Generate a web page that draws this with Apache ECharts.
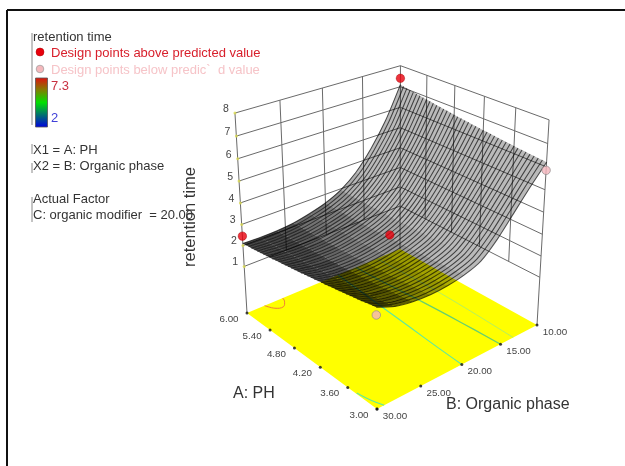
<!DOCTYPE html>
<html><head><meta charset="utf-8">
<style>html,body{margin:0;padding:0;background:#fff}#c{width:625px;height:466px;filter:blur(0.6px)}</style>
<script src="https://cdn.jsdelivr.net/npm/echarts@6/dist/echarts.min.js"></script>
</head><body><div id="c"></div>
<script>
const aTicks=[3.00,3.60,4.20,4.80,5.40,6.00];
const bTicks=[10,15,20,25,30];
const zTicks=[1,2,3,4,5,6,7,8];
const abovePoints=[[6,30,2.45],[6,10,7.4],[4.5,20,2.74]];
const belowPoints=[[3,10,5.85],[3,30,2.78]];
const bLevels=[30,28,26,24,22,20,18,16,14,12,10];
const aStart=3, aStep=0.075;
const surface=[
[3.10,2.78,2.63,2.58,2.63,2.77,3.05,3.70,4.55,5.40,6.20],
[3.07,2.76,2.61,2.56,2.62,2.76,3.04,3.69,4.54,5.40,6.22],
[3.04,2.73,2.59,2.55,2.60,2.75,3.03,3.68,4.53,5.40,6.23],
[3.00,2.71,2.57,2.53,2.59,2.74,3.02,3.67,4.52,5.39,6.25],
[2.97,2.68,2.55,2.51,2.58,2.72,3.01,3.66,4.51,5.39,6.26],
[2.94,2.66,2.53,2.50,2.56,2.71,3.00,3.65,4.50,5.39,6.28],
[2.91,2.64,2.51,2.48,2.55,2.70,3.00,3.64,4.50,5.39,6.30],
[2.88,2.61,2.49,2.47,2.54,2.69,2.99,3.63,4.49,5.39,6.31],
[2.85,2.59,2.48,2.45,2.53,2.68,2.98,3.62,4.48,5.39,6.33],
[2.82,2.57,2.46,2.44,2.52,2.68,2.98,3.61,4.48,5.39,6.35],
[2.79,2.55,2.44,2.42,2.50,2.67,2.97,3.61,4.47,5.39,6.37],
[2.77,2.53,2.42,2.41,2.49,2.66,2.96,3.60,4.46,5.40,6.39],
[2.74,2.51,2.41,2.40,2.48,2.65,2.96,3.59,4.46,5.40,6.41],
[2.71,2.49,2.39,2.38,2.47,2.64,2.95,3.59,4.45,5.40,6.43],
[2.68,2.47,2.38,2.37,2.46,2.64,2.95,3.58,4.45,5.40,6.45],
[2.66,2.45,2.36,2.36,2.46,2.63,2.94,3.57,4.44,5.41,6.47],
[2.63,2.43,2.35,2.35,2.45,2.62,2.94,3.57,4.44,5.41,6.49],
[2.60,2.41,2.33,2.34,2.44,2.62,2.93,3.56,4.43,5.41,6.51],
[2.58,2.39,2.32,2.33,2.43,2.61,2.93,3.56,4.43,5.42,6.53],
[2.55,2.37,2.30,2.32,2.42,2.61,2.93,3.55,4.43,5.42,6.55],
[2.53,2.36,2.29,2.31,2.42,2.60,2.93,3.55,4.43,5.43,6.58],
[2.50,2.34,2.28,2.30,2.41,2.60,2.92,3.55,4.42,5.43,6.60],
[2.48,2.32,2.26,2.29,2.40,2.59,2.92,3.54,4.42,5.44,6.62],
[2.45,2.30,2.25,2.28,2.40,2.59,2.92,3.54,4.42,5.44,6.64],
[2.43,2.29,2.24,2.27,2.39,2.58,2.92,3.54,4.42,5.45,6.67],
[2.41,2.27,2.23,2.26,2.39,2.58,2.92,3.54,4.42,5.46,6.69],
[2.38,2.26,2.22,2.25,2.38,2.58,2.92,3.53,4.42,5.46,6.72],
[2.36,2.24,2.21,2.24,2.38,2.58,2.92,3.53,4.42,5.47,6.74],
[2.34,2.23,2.20,2.24,2.37,2.57,2.92,3.53,4.42,5.48,6.77],
[2.32,2.21,2.19,2.23,2.37,2.57,2.92,3.53,4.42,5.49,6.79],
[2.29,2.20,2.18,2.22,2.36,2.57,2.92,3.53,4.42,5.49,6.82],
[2.27,2.19,2.17,2.22,2.36,2.57,2.92,3.53,4.42,5.50,6.85],
[2.25,2.17,2.16,2.21,2.36,2.57,2.92,3.53,4.42,5.51,6.87],
[2.23,2.16,2.15,2.21,2.36,2.57,2.92,3.53,4.42,5.52,6.90],
[2.21,2.15,2.14,2.20,2.35,2.57,2.93,3.53,4.43,5.53,6.93],
[2.19,2.13,2.13,2.20,2.35,2.57,2.93,3.54,4.43,5.54,6.95],
[2.17,2.12,2.13,2.19,2.35,2.57,2.93,3.54,4.43,5.55,6.98],
[2.15,2.11,2.12,2.19,2.35,2.57,2.94,3.54,4.44,5.56,7.01],
[2.14,2.10,2.11,2.19,2.35,2.58,2.94,3.54,4.44,5.58,7.04],
[2.12,2.09,2.11,2.18,2.35,2.58,2.95,3.55,4.45,5.59,7.07],
[2.10,2.08,2.10,2.18,2.35,2.58,2.95,3.55,4.45,5.60,7.10]];
const contourRed=[[6,27.9],[5.84,27.4],[5.79,26.6],[5.91,25.9],[6,25.7]];
const contourLow=[[3.43,29.9],[3.18,29.6],[3.0,29.2]];
const contourMid=[[6,18.6],[5.4,18.9],[4.79,19.2],[4.15,19.5],[3.52,19.8],[3,20]];
const contourHigh=[[6,16.2],[5.25,15.9],[4.53,15.5],[3.75,15.2],[3,15]];
const contourTop=[[6,13.3],[4.55,13],[3,13.3]];
const colorRange=[2,7.3];

const cam={front:[377,409],right:[537,325],back:[400,249],left:[247,313],vanish:[394,2756],zFloor:-1.3,zGain:0.00944};
const dx1=cam.right[0]-cam.back[0],dx2=cam.left[0]-cam.back[0],sx=cam.front[0]-cam.right[0]+cam.back[0]-cam.left[0];
const dy1=cam.right[1]-cam.back[1],dy2=cam.left[1]-cam.back[1],sy=cam.front[1]-cam.right[1]+cam.back[1]-cam.left[1];
const den=dx1*dy2-dx2*dy1,g=(sx*dy2-dx2*sy)/den,h=(dx1*sy-sx*dy1)/den;
const m=[cam.right[0]-cam.front[0]+g*cam.right[0],cam.left[0]-cam.front[0]+h*cam.left[0],cam.front[0],
         cam.right[1]-cam.front[1]+g*cam.right[1],cam.left[1]-cam.front[1]+h*cam.left[1],cam.front[1]];
function scr(A,B,z){
  const s=(30-B)/20,t=(A-3)/3,q=cam.zGain*((z==null?cam.zFloor:z)-cam.zFloor);
  const w=g*s+h*t+1-q;
  return [(m[0]*s+m[1]*t+m[2]-q*cam.vanish[0])/w,(m[3]*s+m[4]*t+m[5]-q*cam.vanish[1])/w];
}
const FONT='"Liberation Sans",Arial,sans-serif';
const aOf=i=>aStart+i*aStep;

const segs=[];
zTicks.forEach(z=>{segs.push([[6,30,z],[6,10,z]]);segs.push([[6,10,z],[3,10,z]]);});
bTicks.forEach(b=>segs.push([[6,b,(b===30||b===10)?null:1],[6,b,8]]));
aTicks.forEach(a=>{if(a!==6)segs.push([[a,10,a===3?null:1],[a,10,8]]);});

function polyItem(pts,api,style,smooth){
  return {type:'polyline',shape:{points:pts.map(p=>api.coord(p)),smooth:smooth||0},style:Object.assign({fill:null},style),silent:true};
}
function cellItems(){const d=[];for(let i=0;i<surface.length-1;i++)for(let j=0;j<bLevels.length-1;j++)d.push([i,j]);return d;}
const T=(t,x,y,f,c)=>({type:'text',x,y,style:{text:t,font:f+'px '+FONT,fill:c,textVerticalAlign:'middle'}});

const option={animation:false,backgroundColor:'#fff',
 grid:{left:0,right:0,top:0,bottom:0},
 xAxis:{type:'value',min:0,max:625,show:false},
 yAxis:{type:'value',min:0,max:466,inverse:true,show:false},
 graphic:{elements:[
  {type:'line',shape:{x1:7,y1:10,x2:625,y2:10},style:{stroke:'#111',lineWidth:2}},
  {type:'line',shape:{x1:7,y1:10,x2:7,y2:466},style:{stroke:'#111',lineWidth:2}},
  {type:'line',shape:{x1:32,y1:33,x2:32,y2:125},style:{stroke:'#888',lineWidth:1}},
  {type:'line',shape:{x1:32,y1:144,x2:32,y2:154},style:{stroke:'#888',lineWidth:1}},
  {type:'line',shape:{x1:32,y1:163,x2:32,y2:173},style:{stroke:'#888',lineWidth:1}},
  {type:'line',shape:{x1:32,y1:197,x2:32,y2:222},style:{stroke:'#888',lineWidth:1}},
  T('retention time',33,37,13,'#333'),
  {type:'circle',shape:{cx:40,cy:52,r:4},style:{fill:'#e8000c',stroke:'#a00',lineWidth:.5}},
  T('Design points above predicted value',51,53,13,'#d8202c'),
  {type:'circle',shape:{cx:40,cy:69,r:3.8},style:{fill:'#f4b8bc',stroke:'#999',lineWidth:.7}},
  T('Design points below predic`  d value',51,70,13,'#f6c4c8'),
  {type:'rect',shape:{x:35.5,y:78,width:12,height:49},style:{stroke:'#555',lineWidth:.8,fill:{type:'linear',x:0,y:0,x2:0,y2:1,colorStops:[{offset:0,color:'#e01010'},{offset:.25,color:'#808000'},{offset:.5,color:'#00e000'},{offset:.75,color:'#007070'},{offset:1,color:'#0000e0'}]}}},
  T(String(colorRange[1]),51,86,13,'#c83040'),
  T(String(colorRange[0]),51,118,13,'#4040d8'),
  T('X1 = A: PH',33,150,13,'#333'),
  T('X2 = B: Organic phase',33,166,13,'#333'),
  T('Actual Factor',33,199,13,'#333'),
  T('C: organic modifier  = 20.00',33,215,13,'#333'),
  T('A: PH',233,394,16,'#333'),
  T('B: Organic phase',446,405,16,'#333'),
  {type:'text',x:190,y:217,rotation:Math.PI/2,style:{text:'retention time',font:'16.5px '+FONT,fill:'#333',textAlign:'center',textVerticalAlign:'middle'}}
 ]},
 series:[
  {name:'walls',type:'custom',coordinateSystem:'cartesian2d',z:1,silent:true,data:segs.map((s,i)=>[i]),
   renderItem:(p,api)=>{const sg=segs[api.value(0)];return polyItem([scr(...sg[0]),scr(...sg[1])],api,{stroke:'#6a6a6a',lineWidth:1});}},
  {name:'floor',type:'custom',coordinateSystem:'cartesian2d',z:2,silent:true,data:[[0]],
   renderItem:(p,api)=>({type:'polygon',shape:{points:[[3,30],[3,10],[6,10],[6,30]].map(c=>api.coord(scr(c[0],c[1],null)))},style:{fill:'#ffff00'}})},
  ...[[contourRed,'#f07a3a',1],[contourLow,'#5fe8a0',1.2],[contourMid,'#5fe8a0',1.2],[contourHigh,'#66d070',1.2],[contourTop,'#b4f060',1]].map(([c,col,w])=>({
    type:'custom',coordinateSystem:'cartesian2d',z:3,silent:true,data:[[0]],
    renderItem:(p,api)=>polyItem(c.map(q=>scr(q[0],q[1],null)),api,{stroke:col,lineWidth:w},.4)})),
  {name:'surfaceFill',type:'custom',coordinateSystem:'cartesian2d',z:4,silent:true,data:cellItems(),
   renderItem:(p,api)=>{const i=api.value(0),j=api.value(1);
     const a0=aOf(i),a1=aOf(i+1),b0=bLevels[j],b1=bLevels[j+1];
     const P=[scr(a0,b0,surface[i][j]),scr(a0,b1,surface[i][j+1]),scr(a1,b1,surface[i+1][j+1]),scr(a1,b0,surface[i+1][j])];
     const ar=Math.abs((P[2][0]-P[0][0])*(P[3][1]-P[1][1])-(P[3][0]-P[1][0])*(P[2][1]-P[0][1]))/2;
     const al=Math.max(.27,Math.min(.72,.3*Math.pow(80/ar,1.8)));
     return {type:'polygon',shape:{points:P.map(q=>api.coord(q))},style:{fill:'rgba(0,0,0,'+al.toFixed(3)+')'}};}},
  {name:'surfaceMesh',type:'custom',coordinateSystem:'cartesian2d',z:5,silent:true,data:surface.map((r,i)=>[i]),
   renderItem:(p,api)=>{const i=api.value(0);
     return polyItem(bLevels.map((b,j)=>scr(aOf(i),b,surface[i][j])),api,{stroke:'rgba(0,0,0,.66)',lineWidth:1.05},.25);}},
  {name:'above',type:'scatter',z:7,symbolSize:8.5,silent:true,data:abovePoints.map(d=>scr(...d)),itemStyle:{color:'#e8000c',borderColor:'#900',borderWidth:.5}},
  {name:'below',type:'scatter',z:7,symbolSize:8.5,silent:true,data:belowPoints.map(d=>scr(...d)),itemStyle:{color:'#f4b4bc',borderColor:'#888',borderWidth:.8}},
  {name:'aDots',type:'scatter',z:6,symbolSize:3,silent:true,data:aTicks.map(a=>scr(a,30,null)),itemStyle:{color:'#111'}},
  {name:'bDots',type:'scatter',z:6,symbolSize:3,silent:true,data:bTicks.map(b=>scr(3,b,null)),itemStyle:{color:'#111'}},
  {name:'zDots',type:'scatter',z:6,symbolSize:3,silent:true,data:zTicks.map(v=>scr(6,30,v)),itemStyle:{color:'#dcdc50'}},
  {name:'zLabels',type:'custom',coordinateSystem:'cartesian2d',z:8,silent:true,data:zTicks.map(v=>[v]),
   renderItem:(p,api)=>{const v=api.value(0),c=api.coord(scr(6,30,v));return {type:'text',x:c[0]-9,y:c[1]-4,style:{text:String(v),font:'10.5px '+FONT,fill:'#444',textAlign:'center',textVerticalAlign:'middle'}};}},
  {name:'aLabels',type:'custom',coordinateSystem:'cartesian2d',z:8,silent:true,data:aTicks.map(v=>[v]),
   renderItem:(p,api)=>{const v=api.value(0),c=api.coord(scr(v,30,null));return {type:'text',x:c[0]-18,y:c[1]+6,style:{text:v.toFixed(2),font:'9.8px '+FONT,fill:'#444',textAlign:'center',textVerticalAlign:'middle'}};}},
  {name:'bLabels',type:'custom',coordinateSystem:'cartesian2d',z:8,silent:true,data:bTicks.map(v=>[v]),
   renderItem:(p,api)=>{const v=api.value(0),c=api.coord(scr(3,v,null));return {type:'text',x:c[0]+18,y:c[1]+7,style:{text:v.toFixed(2),font:'9.8px '+FONT,fill:'#444',textAlign:'center',textVerticalAlign:'middle'}};}}
 ]};
const chart=echarts.init(document.getElementById('c'),null,{renderer:'canvas'});
chart.setOption(option);
</script></body></html>
